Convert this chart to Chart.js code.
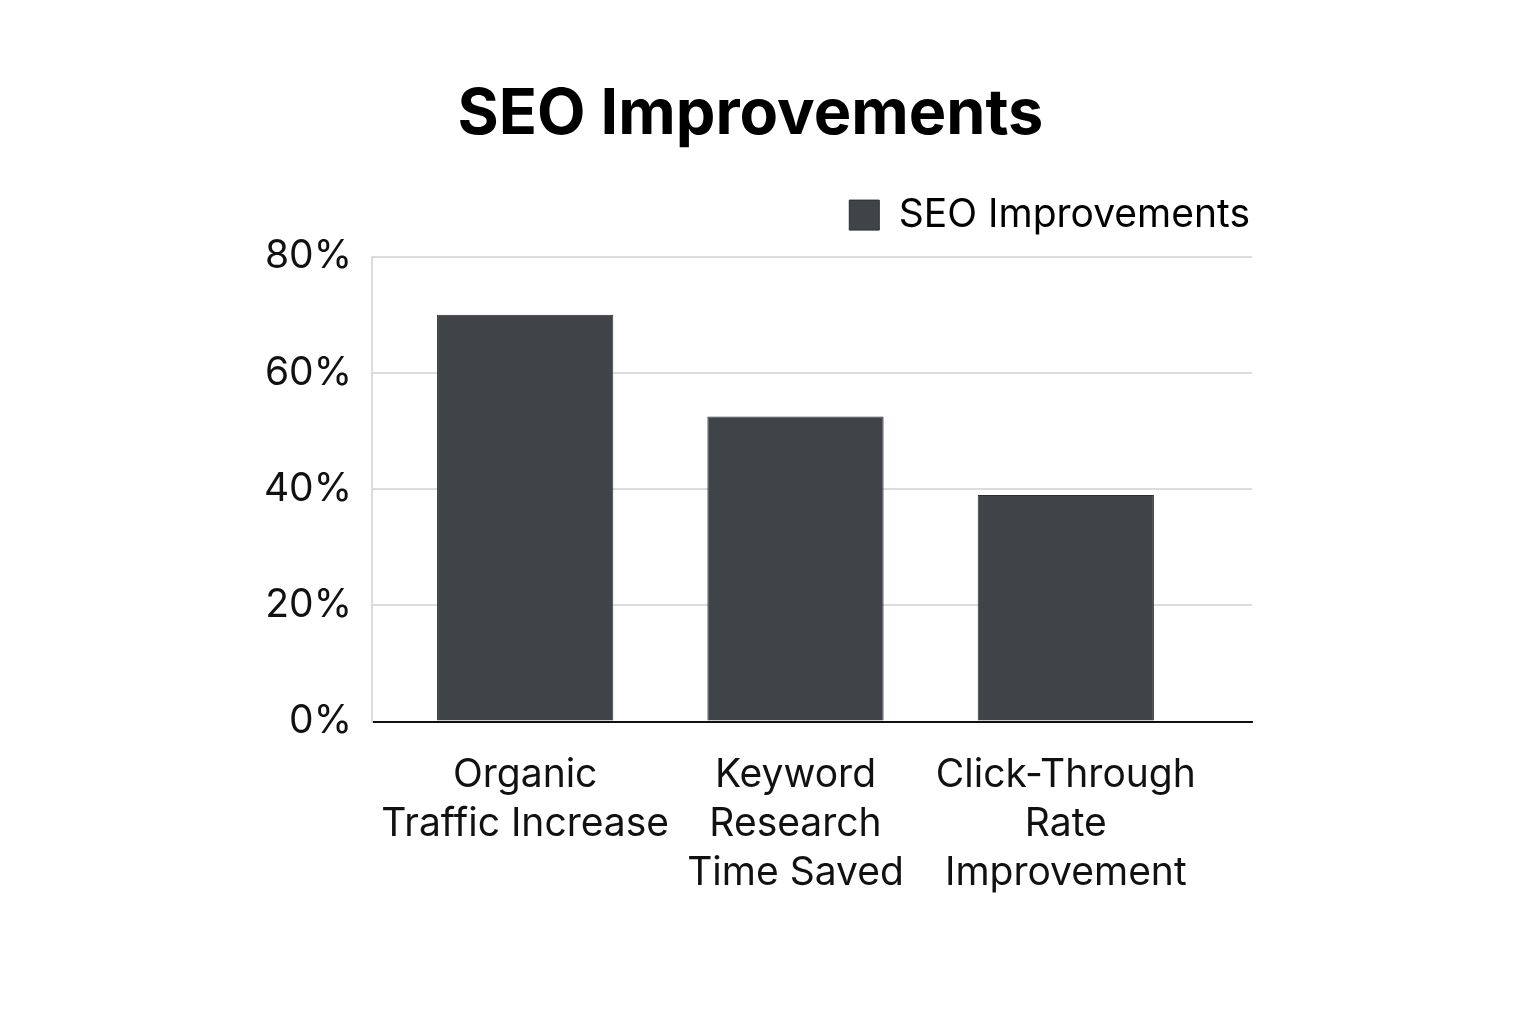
<!DOCTYPE html>
<html>
<head>
<meta charset="utf-8">
<script src="https://cdn.jsdelivr.net/npm/chart.js@4"></script>
<style>
html,body{margin:0;padding:0;background:#fff;}
#wrap{width:1536px;height:1024px;position:relative;}
</style>
</head>
<body>
<div id="wrap"><canvas id="c" width="1536" height="1024"></canvas></div>
<script>
const categories = [["Organic","Traffic Increase"],["Keyword","Research","Time Saved"],["Click-Through","Rate","Improvement"]];
const seriesName = "SEO Improvements";
const values = [70, 52.5, 39];
const yTicks = [0, 20, 40, 60, 80];
const xIndex = [0, 1, 2];

const FONT = "Inter, 'Noto Sans', sans-serif";

const legendSpacer = {
  id: 'legendSpacer',
  beforeInit(chart) {
    const legend = chart.legend;
    if (!legend) return;
    const fit = legend.fit;
    legend.fit = function () { fit.call(this); this.height += 12; };
  }
};

new Chart(document.getElementById('c'), {
  type: 'bar',
  data: {
    datasets: [{
      label: seriesName,
      data: values.map((v, i) => ({ x: xIndex[i], y: v })),
      backgroundColor: '#404449',
      borderColor: '#2a2d31',
      borderWidth: 1,
      barPercentage: 0.652,
      categoryPercentage: 1.0
    }]
  },
  plugins: [legendSpacer],
  options: {
    responsive: false,
    animation: false,
    devicePixelRatio: 1,
    layout: { padding: { left: 249, right: 284, top: 77, bottom: 97 } },
    plugins: {
      title: {
        display: true,
        text: 'SEO Improvements',
        color: '#000',
        font: { family: FONT, size: 63, weight: 'bold' },
        padding: { top: 0, bottom: 41 }
      },
      legend: {
        display: true,
        align: 'end',
        labels: {
          color: '#000',
          font: { family: FONT, size: 39 },
          boxWidth: 30,
          boxHeight: 30,
          padding: 2
        }
      },
      tooltip: { enabled: false }
    },
    scales: {
      x: {
        type: 'linear',
        offset: false,
        min: -0.5667,
        max: 2.6889,
        afterBuildTicks(scale) { scale.ticks = xIndex.map(v => ({ value: v })); },
        grid: { display: false, drawTicks: false, offset: false },
        border: { display: true, color: '#111', width: 2 },
        ticks: {
          color: '#111',
          font: { family: FONT, size: 39, lineHeight: 1.26 },
          padding: 29,
          maxRotation: 0,
          autoSkip: false,
          callback: v => categories[v]
        }
      },
      y: {
        min: 0, max: 80,
        afterFit(scale) { scale.width = 123; },
        afterBuildTicks(scale) { scale.ticks = yTicks.map(v => ({ value: v })); },
        grid: { color: '#dcdcdc', lineWidth: 2, drawTicks: false },
        border: { display: true, color: '#dcdcdc', width: 2 },
        ticks: {
          color: '#111',
          font: { family: FONT, size: 39 },
          padding: 20,
          callback: v => v + '%'
        }
      }
    }
  }
});
</script>
</body>
</html>
